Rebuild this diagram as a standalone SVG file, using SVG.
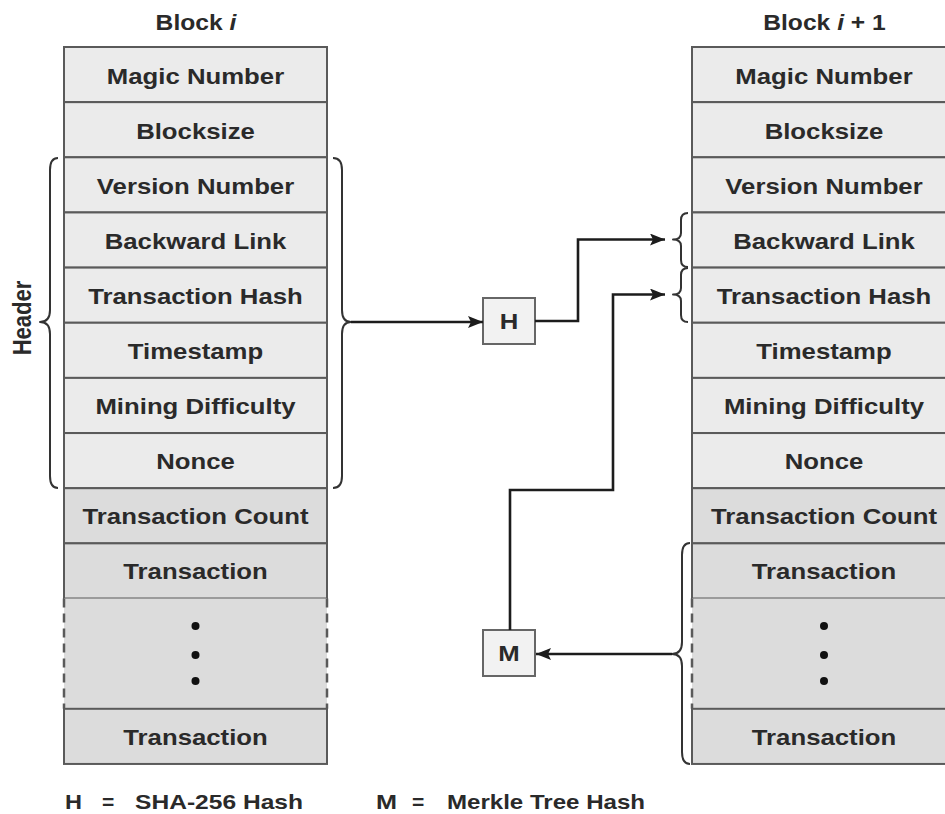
<svg xmlns="http://www.w3.org/2000/svg" width="945" height="814" viewBox="0 0 945 814">
  <defs>
    <style>
      .lbl { font-family: "Liberation Sans", Arial, Helvetica, sans-serif; font-weight: bold; font-size: 22px; fill: #2a2a2a; text-anchor: middle; }
      .leg { font-family: "Liberation Sans", Arial, Helvetica, sans-serif; font-weight: bold; font-size: 21px; fill: #2a2a2a; }
      .hdr { fill: #ebebeb; stroke: #5a5a5a; stroke-width: 2; }
      .body { fill: #dcdcdc; stroke: #5a5a5a; stroke-width: 2; }
      .gap { fill: #dcdcdc; stroke: none; }
      .side { fill: none; stroke: #5a5a5a; stroke-width: 2.5; stroke-dasharray: 9 6; }
      .brace { fill: none; stroke: #333; stroke-width: 2; stroke-linejoin: round; }
      .wire { fill: none; stroke: #1c1c1c; stroke-width: 2.6; }
      .op { fill: #f2f2f2; stroke: #666; stroke-width: 2; }
      .dot { fill: #111; }
    </style>
    <marker id="arrow" markerUnits="userSpaceOnUse" markerWidth="16" markerHeight="12" refX="15" refY="6" orient="auto">
      <path d="M0,0 L15,6 L0,12 L3,6 z" fill="#1c1c1c"/>
    </marker>
  </defs>

  <!-- Block i -->
  <g id="block-i">
    <text class="lbl" transform="translate(196,30) scale(1.12,1)">Block <tspan font-style="italic">i</tspan></text>
    <rect class="hdr" x="64" y="47" width="263" height="55.15"/>
    <rect class="hdr" x="64" y="102.15" width="263" height="55.15"/>
    <rect class="hdr" x="64" y="157.3" width="263" height="55.15"/>
    <rect class="hdr" x="64" y="212.45" width="263" height="55.15"/>
    <rect class="hdr" x="64" y="267.6" width="263" height="55.15"/>
    <rect class="hdr" x="64" y="322.75" width="263" height="55.15"/>
    <rect class="hdr" x="64" y="377.9" width="263" height="55.15"/>
    <rect class="hdr" x="64" y="433.05" width="263" height="55.15"/>
    <rect class="body" x="64" y="488.2" width="263" height="55.15"/>
    <rect class="body" x="64" y="543.35" width="263" height="55.15"/>
    <rect class="gap" x="64" y="598.5" width="263" height="110.3"/>
    <path class="side" d="M64,598.5 V708.8 M327,598.5 V708.8"/>
    <rect class="body" x="64" y="708.8" width="263" height="55.15"/>
    <circle class="dot" cx="195.5" cy="626" r="4"/>
    <circle class="dot" cx="195.5" cy="655" r="4"/>
    <circle class="dot" cx="195.5" cy="681" r="4"/>
    <text class="lbl" transform="translate(195.5,84) scale(1.17,1)">Magic Number</text>
    <text class="lbl" transform="translate(195.5,138.5) scale(1.17,1)">Blocksize</text>
    <text class="lbl" transform="translate(195.5,193.5) scale(1.17,1)">Version Number</text>
    <text class="lbl" transform="translate(195.5,248.5) scale(1.17,1)">Backward Link</text>
    <text class="lbl" transform="translate(195.5,303.5) scale(1.17,1)">Transaction Hash</text>
    <text class="lbl" transform="translate(195.5,358.5) scale(1.17,1)">Timestamp</text>
    <text class="lbl" transform="translate(195.5,414) scale(1.17,1)">Mining Difficulty</text>
    <text class="lbl" transform="translate(195.5,469) scale(1.17,1)">Nonce</text>
    <text class="lbl" transform="translate(195.5,524) scale(1.17,1)">Transaction Count</text>
    <text class="lbl" transform="translate(195.5,579) scale(1.17,1)">Transaction</text>
    <text class="lbl" transform="translate(195.5,744.5) scale(1.17,1)">Transaction</text>
  </g>

  <!-- header brace and label on the left of block i -->
  <g id="header-brace">
    <path class="brace" d="M58,158 Q50,158 50,170 L50,310 Q50,322 40,322 Q50,322 50,334 L50,476 Q50,488 58,488"/>
    <text class="lbl" transform="translate(31,318) scale(1.17,1) rotate(-90)">Header</text>
  </g>

  <!-- header brace on the right of block i -->
  <g id="hash-input-brace">
    <path class="brace" d="M333,158 Q342,158 342,170 L342,310 Q342,322 351,322 Q342,322 342,334 L342,476 Q342,488 333,488"/>
  </g>

  <!-- Block i + 1 -->
  <g id="block-i1">
    <text class="lbl" transform="translate(824.5,30) scale(1.12,1)">Block <tspan font-style="italic">i</tspan> + 1</text>
    <rect class="hdr" x="692" y="47" width="263" height="55.15"/>
    <rect class="hdr" x="692" y="102.15" width="263" height="55.15"/>
    <rect class="hdr" x="692" y="157.3" width="263" height="55.15"/>
    <rect class="hdr" x="692" y="212.45" width="263" height="55.15"/>
    <rect class="hdr" x="692" y="267.6" width="263" height="55.15"/>
    <rect class="hdr" x="692" y="322.75" width="263" height="55.15"/>
    <rect class="hdr" x="692" y="377.9" width="263" height="55.15"/>
    <rect class="hdr" x="692" y="433.05" width="263" height="55.15"/>
    <rect class="body" x="692" y="488.2" width="263" height="55.15"/>
    <rect class="body" x="692" y="543.35" width="263" height="55.15"/>
    <rect class="gap" x="692" y="598.5" width="263" height="110.3"/>
    <path class="side" d="M692,598.5 V708.8"/>
    <rect class="body" x="692" y="708.8" width="263" height="55.15"/>
    <circle class="dot" cx="824" cy="626" r="4"/>
    <circle class="dot" cx="824" cy="655" r="4"/>
    <circle class="dot" cx="824" cy="681" r="4"/>
    <text class="lbl" transform="translate(824,84) scale(1.17,1)">Magic Number</text>
    <text class="lbl" transform="translate(824,138.5) scale(1.17,1)">Blocksize</text>
    <text class="lbl" transform="translate(824,193.5) scale(1.17,1)">Version Number</text>
    <text class="lbl" transform="translate(824,248.5) scale(1.17,1)">Backward Link</text>
    <text class="lbl" transform="translate(824,303.5) scale(1.17,1)">Transaction Hash</text>
    <text class="lbl" transform="translate(824,358.5) scale(1.17,1)">Timestamp</text>
    <text class="lbl" transform="translate(824,414) scale(1.17,1)">Mining Difficulty</text>
    <text class="lbl" transform="translate(824,469) scale(1.17,1)">Nonce</text>
    <text class="lbl" transform="translate(824,524) scale(1.17,1)">Transaction Count</text>
    <text class="lbl" transform="translate(824,579) scale(1.17,1)">Transaction</text>
    <text class="lbl" transform="translate(824,744.5) scale(1.17,1)">Transaction</text>
  </g>

  <!-- small braces on Backward Link and Transaction Hash of block i + 1 -->
  <g id="link-braces">
    <path class="brace" d="M688,213 Q681,213 681,220 L681,233 Q681,239.5 673,239.5 Q681,239.5 681,246 L681,260 Q681,267 688,267"/>
    <path class="brace" d="M688,268 Q681,268 681,275 L681,288 Q681,294.5 673,294.5 Q681,294.5 681,301 L681,315 Q681,322 688,322"/>
  </g>

  <!-- transactions brace on block i + 1 -->
  <g id="tx-brace">
    <path class="brace" d="M690,543 Q682,543 682,555 L682,642 Q682,654 672,654 Q682,654 682,666 L682,752 Q682,764 690,764"/>
  </g>

  <!-- hash operator -->
  <g id="op-h">
    <rect class="op" x="483" y="298" width="52" height="46"/>
    <text class="lbl" transform="translate(509,329) scale(1.17,1)">H</text>
  </g>

  <!-- merkle operator -->
  <g id="op-m">
    <rect class="op" x="483" y="630" width="52" height="46"/>
    <text class="lbl" transform="translate(509,661) scale(1.17,1)">M</text>
  </g>

  <!-- connectors -->
  <g id="connectors">
    <path class="wire" d="M351,322 L483,322" marker-end="url(#arrow)"/>
    <path class="wire" d="M535,321 L578,321 L578,239.5 L665,239.5" marker-end="url(#arrow)"/>
    <path class="wire" d="M510,630 L510,490 L613,490 L613,294.5 L665,294.5" marker-end="url(#arrow)"/>
    <path class="wire" d="M672,654 L536,654" marker-end="url(#arrow)"/>
  </g>

  <!-- legend -->
  <g id="legend">
    <text class="leg" x="65" y="809" textLength="17" lengthAdjust="spacingAndGlyphs">H</text>
    <text class="leg" x="102" y="809">=</text>
    <text class="leg" x="135" y="809" textLength="168" lengthAdjust="spacingAndGlyphs">SHA-256 Hash</text>
    <text class="leg" x="376" y="809" textLength="21" lengthAdjust="spacingAndGlyphs">M</text>
    <text class="leg" x="412" y="809">=</text>
    <text class="leg" x="447" y="809" textLength="198" lengthAdjust="spacingAndGlyphs">Merkle Tree Hash</text>
  </g>
</svg>
